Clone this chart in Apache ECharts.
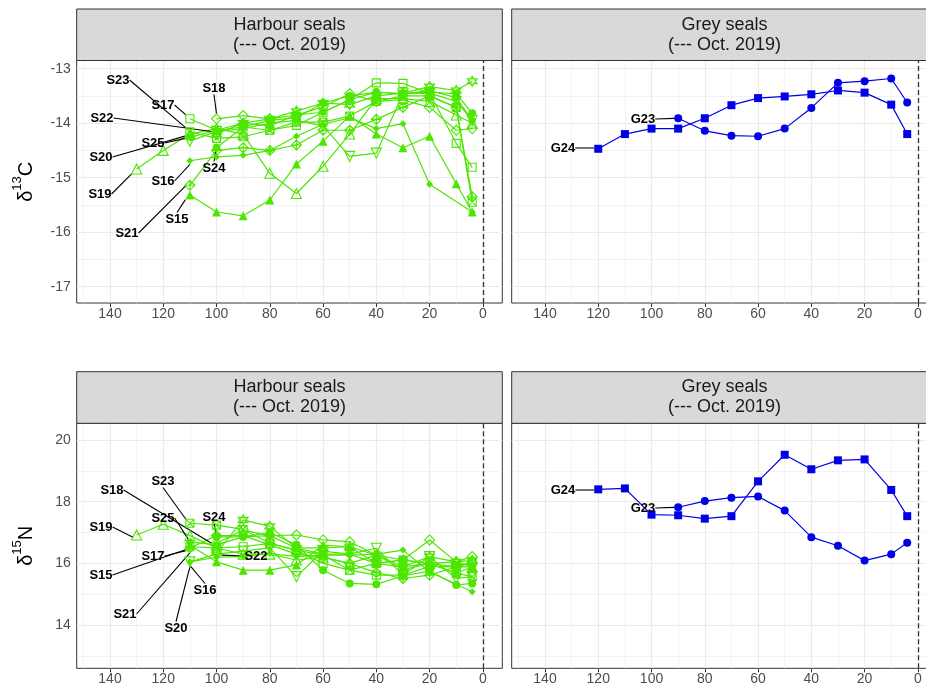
<!DOCTYPE html>
<html><head><meta charset="utf-8">
<script src="https://cdn.jsdelivr.net/npm/echarts@6/dist/echarts.min.js"></script>
<style>html,body{margin:0;padding:0;overflow:hidden;background:#fff}#c{width:940px;height:691px}</style>
</head><body><div id="c"></div><script>
// ---------- data ----------
const xTicks = [0, 20, 40, 60, 80, 100, 120, 140];
const xMinor = [10, 30, 50, 70, 90, 110, 130, 150];
const yTicksC = [-17, -16, -15, -14, -13];
const yMinorC = [-16.5, -15.5, -14.5, -13.5];
const yTicksN = [14, 16, 18, 20];
const yMinorN = [13, 15, 17, 19];

const xFrom130 = [130,120,110,100,90,80,70,60,50,40,30,20,10,4];
const xFrom110 = [110,100,90,80,70,60,50,40,30,20,10,4];
const xFrom100 = [100,90,80,70,60,50,40,30,20,10,4];
const xS16 = [110,100,90,80,70,60,50,40,30,20,4];
const xG24 = [120,110,100,90,80,70,60,50,40,30,20,10,4];
const xG23 = [90,80,70,60,50,40,30,20,10,4];

const names = ['S15','S16','S17','S18','S19','S20','S21','S22','S23','S24','S25'];
const xSets = [xFrom110, xS16, xFrom110, xFrom100, xFrom130, xFrom110, xFrom110, xFrom100, xFrom110, xFrom100, xFrom110];

const c13_S15 = [-15.32,-15.63,-15.70,-15.41,-14.75,-14.33,-13.87,-14.20,-14.45,-14.24,-15.11,-15.63];
const c13_S16 = [-14.69,-14.62,-14.59,-14.50,-14.24,-14.02,-13.90,-14.10,-14.01,-15.12,-15.63];
const c13_S17 = [-13.92,-14.13,-14.07,-14.13,-14.04,-13.80,-13.57,-13.26,-13.27,-13.45,-14.37,-14.81];
const c13_S18 = [-13.92,-13.86,-13.92,-13.85,-13.70,-13.46,-13.60,-13.57,-13.71,-14.13,-14.10];
const c13_S19 = [-14.84,-14.50,-14.20,-14.10,-14.20,-14.92,-15.29,-14.79,-14.20,-13.55,-13.55,-13.60,-13.85,-14.00];
const c13_S20 = [-14.33,-14.15,-14.10,-14.00,-13.95,-14.05,-14.61,-14.55,-13.46,-13.45,-13.60,-13.95];
const c13_S21 = [-15.14,-14.50,-14.45,-14.50,-14.40,-14.13,-14.13,-13.93,-13.71,-13.50,-13.71,-15.35];
const c13_S22 = [-14.20,-14.00,-13.92,-13.78,-13.63,-13.66,-13.50,-13.45,-13.33,-13.40,-13.23];
const c13_S23 = [-14.16,-14.28,-14.25,-14.13,-13.98,-13.98,-13.87,-13.60,-13.50,-13.50,-13.71,-15.45];
const c13_S24 = [-14.45,-14.07,-13.95,-13.90,-13.63,-13.50,-13.43,-13.46,-13.43,-13.46,-13.82];
const c13_S25 = [-14.26,-14.13,-14.00,-14.05,-13.85,-13.80,-13.57,-13.43,-13.46,-13.40,-13.53,-13.95];

const n15_S15 = [16.59,16.05,15.78,15.78,15.95,16.59,16.54,16.27,15.89,16.00,15.68,15.89];
const n15_S16 = [16.05,16.20,16.22,16.32,16.22,16.27,16.27,16.30,16.43,15.73,15.08];
const n15_S17 = [16.54,16.50,16.54,16.65,16.43,16.00,15.78,15.62,15.62,15.90,15.89,16.05];
const n15_S18 = [16.65,17.08,16.90,16.92,16.76,16.70,16.27,16.11,16.76,16.05,16.22];
const n15_S19 = [16.92,17.27,16.90,16.50,16.30,16.30,16.11,16.20,16.00,16.27,15.80,16.00,16.05,15.89];
const n15_S20 = [16.05,16.30,16.40,16.50,15.57,16.40,16.30,16.49,15.62,16.22,15.51,15.57];
const n15_S21 = [16.50,16.90,16.90,16.60,16.30,16.20,16.00,15.70,15.51,15.62,15.89,16.00];
const n15_S22 = [16.35,17.41,17.20,16.50,16.50,16.54,16.00,15.89,16.22,16.05,16.10];
const n15_S23 = [17.30,17.24,17.10,16.65,16.43,16.27,15.78,16.00,16.11,16.00,15.68,15.57];
const n15_S24 = [16.86,16.86,17.00,16.60,15.78,15.35,15.32,15.60,15.75,15.30,15.35];
const n15_S25 = [16.70,16.60,16.86,16.90,16.50,16.30,16.30,16.00,16.11,16.00,15.89,15.89];

const c13_G23 = [-13.91,-14.14,-14.23,-14.24,-14.10,-13.72,-13.26,-13.23,-13.18,-13.62];
const c13_G24 = [-14.47,-14.20,-14.10,-14.10,-13.91,-13.67,-13.54,-13.51,-13.47,-13.40,-13.44,-13.66,-14.20];
const n15_G23 = [17.82,18.02,18.13,18.17,17.71,16.85,16.57,16.09,16.30,16.67];
const n15_G24 = [18.40,18.43,17.58,17.56,17.45,17.53,18.66,19.52,19.05,19.34,19.37,18.38,17.53];

const c13Harbour = [c13_S15,c13_S16,c13_S17,c13_S18,c13_S19,c13_S20,c13_S21,c13_S22,c13_S23,c13_S24,c13_S25];
const n15Harbour = [n15_S15,n15_S16,n15_S17,n15_S18,n15_S19,n15_S20,n15_S21,n15_S22,n15_S23,n15_S24,n15_S25];

// ---------- styling / layout ----------
const GREEN = '#4CE600';
const BLUE = '#0000E6';
const FONT = '"Liberation Sans", Arial, sans-serif';
const P = {L: 76.7, R: 511.7, W: 425.6, T1: 60.5, H1: 242.5, T2: 423.3, H2: 245};

// label anchor positions (pixel centres, like repelled labels)
const labPosC = {S15:[177,219],S16:[163,181],S17:[163,105],S18:[214,88],S19:[100,194],S20:[101,157],S21:[127,233],S22:[102,118],S23:[118,80],S24:[214,168],S25:[153,143]};
const labPosN = {S15:[101,575],S16:[205,590],S17:[153,556],S18:[112,490],S19:[101,527],S20:[176,628],S21:[125,614],S22:[256,556],S23:[163,481],S24:[214,517],S25:[163,518]};
const labPosGC = {G23:[643,119], G24:[563,148]};
const labPosGN = {G23:[643,508], G24:[563,490]};

const STAR = 'path://M5,0 L9.33,7.5 L0.67,7.5 Z M5,10 L9.33,2.5 L0.67,2.5 Z';
const SQX = 'path://M0,0 L10,0 L10,10 L0,10 Z M0,0 L10,10 M10,0 L0,10';
const DPLUS = 'path://M5,0 L10,5 L5,10 L0,5 Z M5,0 L5,10 M0,5 L10,5';
const shapes = {
  S15:{symbol:'triangle', size:9, open:false},
  S16:{symbol:'diamond', size:7, open:false},
  S17:{symbol:'rect', size:8, open:true},
  S18:{symbol:'diamond', size:10, open:true},
  S19:{symbol:'triangle', size:10, open:true},
  S20:{symbol:'triangle', size:10, open:true, rotate:180},
  S21:{symbol:DPLUS, size:10, open:true},
  S22:{symbol:STAR, size:10, open:true},
  S23:{symbol:SQX, size:8, open:true},
  S24:{symbol:'circle', size:8, open:false},
  S25:{symbol:'circle', size:7, open:false},
  G23:{symbol:'circle', size:8, open:false},
  G24:{symbol:'rect', size:8, open:false}
};

function seal(name, gi, xs, ys, color, pos) {
  const sh = shapes[name];
  const data = xs.map((x, i) => i === 0 ? {
    value: [x, ys[i]],
    label: {show: true, formatter: name, fontWeight: 'bold', fontSize: 13, color: '#000', fontFamily: FONT}
  } : {value: [x, ys[i]]});
  return {
    type: 'line', name: name, xAxisIndex: gi, yAxisIndex: gi, data: data, z: 5,
    symbol: sh.symbol, symbolSize: sh.size, symbolRotate: sh.rotate || 0, showSymbol: true,
    lineStyle: {color: color, width: 1.2},
    itemStyle: sh.open ? {color: 'rgba(0,0,0,0)', borderColor: color, borderWidth: 1.1} : {color: color, borderWidth: 0},
    label: {show: false},
    labelLine: {show: true, lineStyle: {color: '#000', width: 1.1}},
    labelLayout: function (p) {
      if (p.dataIndex !== 0) return {};
      return {x: pos[0], y: pos[1], align: 'center', verticalAlign: 'middle'};
    },
    emphasis: {disabled: true}, animation: false, silent: true
  };
}

function gridLines(gi, yMaj, yMin) {
  const mk = (key, v, w) => ({[key]: v, lineStyle: {color: '#ebebeb', width: w, type: 'solid'}});
  return {
    type: 'line', xAxisIndex: gi, yAxisIndex: gi, data: [], z: 1, silent: true, animation: false,
    markLine: {
      silent: true, animation: false, symbol: ['none', 'none'], label: {show: false}, emphasis: {disabled: true},
      data: [].concat(
        xMinor.map(v => mk('xAxis', v, 0.6)), yMin.map(v => mk('yAxis', v, 0.6)),
        xTicks.map(v => mk('xAxis', v, 1.2)), yMaj.map(v => mk('yAxis', v, 1.2))
      )
    }
  };
}
function zeroLine(gi) {
  return {
    type: 'line', xAxisIndex: gi, yAxisIndex: gi, data: [], z: 3, silent: true, animation: false,
    markLine: {silent: true, animation: false, symbol: ['none', 'none'], label: {show: false}, emphasis: {disabled: true},
      data: [{xAxis: 0, lineStyle: {color: '#333333', width: 1.3, type: [5, 3]}}]}
  };
}

const grids = [
  {left: P.L, top: P.T1, width: P.W, height: P.H1},
  {left: P.R, top: P.T1, width: P.W, height: P.H1},
  {left: P.L, top: P.T2, width: P.W, height: P.H2},
  {left: P.R, top: P.T2, width: P.W, height: P.H2}
].map(g => Object.assign(g, {show: true, borderColor: '#333333', borderWidth: 1, backgroundColor: '#fff', containLabel: false, outerBoundsMode: 'none'}));

const xAxes = [0, 1, 2, 3].map(i => ({
  type: 'value', gridIndex: i, min: -7.3, max: 152.5, inverse: true,
  splitLine: {show: false}, axisLine: {show: false},
  axisTick: {show: true, customValues: xTicks, length: 4, lineStyle: {color: '#333333', width: 1}},
  axisLabel: {customValues: xTicks, margin: 4, fontSize: 14, color: '#4d4d4d', fontFamily: FONT}
}));

const yName = (iso, el) => '{a|δ}{b|' + iso + '}{a|' + el + '}';
const yRich = {
  a: {fontSize: 20, color: '#000', fontFamily: FONT, lineHeight: 26, verticalAlign: 'bottom'},
  b: {fontSize: 13, color: '#000', fontFamily: FONT, lineHeight: 14, verticalAlign: 'top'}
};
const yAxes = [0, 1, 2, 3].map(i => {
  const top = i < 2;
  const left = i % 2 === 0;
  const ticks = top ? yTicksC : yTicksN;
  return {
    type: 'value', gridIndex: i,
    min: top ? -17.3 : 12.6, max: top ? -12.85 : 20.54,
    splitLine: {show: false}, axisLine: {show: false},
    axisTick: {show: left, customValues: ticks, length: 4, lineStyle: {color: '#333333', width: 1}},
    axisLabel: {show: left, customValues: ticks, margin: 6, fontSize: 14, color: '#4d4d4d', fontFamily: FONT},
    name: left ? (top ? yName('13', 'C') : yName('15', 'N')) : '',
    nameLocation: 'middle', nameRotate: 90, nameGap: 40,
    nameTextStyle: {rich: yRich}
  };
});

const series = [];
[0, 1, 2, 3].forEach(i => series.push(gridLines(i, i < 2 ? yTicksC : yTicksN, i < 2 ? yMinorC : yMinorN)));
[0, 1, 2, 3].forEach(i => series.push(zeroLine(i)));
names.forEach((n, k) => {
  series.push(seal(n, 0, xSets[k], c13Harbour[k], GREEN, labPosC[n]));
  series.push(seal(n, 2, xSets[k], n15Harbour[k], GREEN, labPosN[n]));
});
series.push(seal('G23', 1, xG23, c13_G23, BLUE, labPosGC.G23));
series.push(seal('G24', 1, xG24, c13_G24, BLUE, labPosGC.G24));
series.push(seal('G23', 3, xG23, n15_G23, BLUE, labPosGN.G23));
series.push(seal('G24', 3, xG24, n15_G24, BLUE, labPosGN.G24));

function strip(x, y, w, h, t1, t2) {
  return {
    type: 'group', children: [
      {type: 'rect', shape: {x: x, y: y, width: w, height: h}, style: {fill: '#d9d9d9', stroke: '#333333', lineWidth: 1}, z: 10},
      {type: 'text', x: x + w / 2, y: y + h / 2 - 10, style: {text: t1, fontSize: 18, fontFamily: FONT, fill: '#1a1a1a', align: 'center', verticalAlign: 'middle'}, z: 11},
      {type: 'text', x: x + w / 2, y: y + h / 2 + 10, style: {text: t2, fontSize: 18, fontFamily: FONT, fill: '#1a1a1a', align: 'center', verticalAlign: 'middle'}, z: 11}
    ]
  };
}

const chart = echarts.init(document.getElementById('c'), null, {renderer: 'canvas'});
chart.setOption({
  backgroundColor: '#ffffff',
  animation: false,
  textStyle: {fontFamily: FONT},
  grid: grids, xAxis: xAxes, yAxis: yAxes, series: series,
  graphic: [
    strip(P.L, 9, P.W, P.T1 - 9, 'Harbour seals', '(--- Oct. 2019)'),
    strip(P.R, 9, P.W, P.T1 - 9, 'Grey seals', '(--- Oct. 2019)'),
    strip(P.L, 371.7, P.W, P.T2 - 371.7, 'Harbour seals', '(--- Oct. 2019)'),
    strip(P.R, 371.7, P.W, P.T2 - 371.7, 'Grey seals', '(--- Oct. 2019)')
  ]
});
</script></body></html>
